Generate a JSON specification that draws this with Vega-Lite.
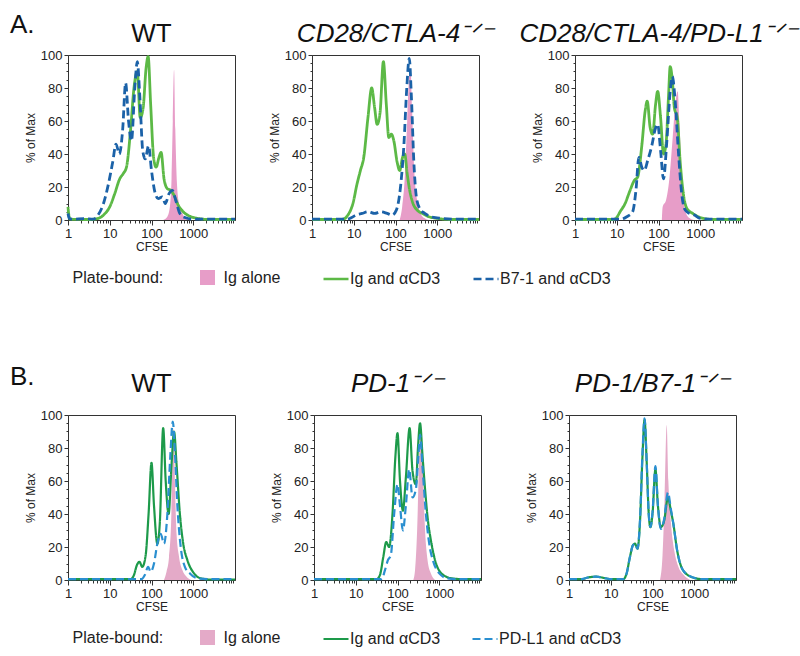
{
"$schema": "https://vega.github.io/schema/vega-lite/v6.json",
"background": "white",
"padding": {"left": 10, "top": 12, "right": 5, "bottom": 5},
"data": {"name": "d"},
"datasets": {"d": [
{"p":"A1","s":"Ig alone","x":190.5,"y":0},{"p":"A1","s":"Ig alone","x":239.9,"y":2},{"p":"A1","s":"Ig alone","x":275.4,"y":8},{"p":"A1","s":"Ig alone","x":302,"y":25},{"p":"A1","s":"Ig alone","x":323.6,"y":60},{"p":"A1","s":"Ig alone","x":346.7,"y":91},{"p":"A1","s":"Ig alone","x":371.5,"y":55},{"p":"A1","s":"Ig alone","x":407.4,"y":22},{"p":"A1","s":"Ig alone","x":457.1,"y":10},{"p":"A1","s":"Ig alone","x":549.5,"y":4},{"p":"A1","s":"Ig alone","x":691.8,"y":1},{"p":"A1","s":"Ig alone","x":871,"y":0},
{"p":"A1","s":"Ig and αCD3","x":1,"y":8},{"p":"A1","s":"Ig and αCD3","x":1.047,"y":3},{"p":"A1","s":"Ig and αCD3","x":1.12,"y":0.5},{"p":"A1","s":"Ig and αCD3","x":3.16,"y":0.3},{"p":"A1","s":"Ig and αCD3","x":5.01,"y":0.8},{"p":"A1","s":"Ig and αCD3","x":7.08,"y":3},{"p":"A1","s":"Ig and αCD3","x":10,"y":8},{"p":"A1","s":"Ig and αCD3","x":13.18,"y":16},{"p":"A1","s":"Ig and αCD3","x":17.38,"y":25},{"p":"A1","s":"Ig and αCD3","x":20.89,"y":28},{"p":"A1","s":"Ig and αCD3","x":25.12,"y":32},{"p":"A1","s":"Ig and αCD3","x":31.62,"y":55},{"p":"A1","s":"Ig and αCD3","x":38.02,"y":80},{"p":"A1","s":"Ig and αCD3","x":45.71,"y":90},{"p":"A1","s":"Ig and αCD3","x":53.7,"y":62},{"p":"A1","s":"Ig and αCD3","x":63.1,"y":68},{"p":"A1","s":"Ig and αCD3","x":74.13,"y":92},{"p":"A1","s":"Ig and αCD3","x":83.18,"y":99},{"p":"A1","s":"Ig and αCD3","x":95.5,"y":70},{"p":"A1","s":"Ig and αCD3","x":112.2,"y":38},{"p":"A1","s":"Ig and αCD3","x":128.8,"y":32},{"p":"A1","s":"Ig and αCD3","x":151.4,"y":38},{"p":"A1","s":"Ig and αCD3","x":169.8,"y":41},{"p":"A1","s":"Ig and αCD3","x":199.5,"y":25},{"p":"A1","s":"Ig and αCD3","x":239.9,"y":19},{"p":"A1","s":"Ig and αCD3","x":288.4,"y":18},{"p":"A1","s":"Ig and αCD3","x":346.7,"y":15},{"p":"A1","s":"Ig and αCD3","x":436.5,"y":9},{"p":"A1","s":"Ig and αCD3","x":575.4,"y":5},{"p":"A1","s":"Ig and αCD3","x":794.3,"y":2.5},{"p":"A1","s":"Ig and αCD3","x":1259,"y":1},{"p":"A1","s":"Ig and αCD3","x":2512,"y":0.3},{"p":"A1","s":"Ig and αCD3","x":10000,"y":0.3},
{"p":"A1","s":"B7-1 and αCD3","x":1,"y":4},{"p":"A1","s":"B7-1 and αCD3","x":1.072,"y":1},{"p":"A1","s":"B7-1 and αCD3","x":1.26,"y":0.5},{"p":"A1","s":"B7-1 and αCD3","x":2.51,"y":0.8},{"p":"A1","s":"B7-1 and αCD3","x":3.98,"y":0.5},{"p":"A1","s":"B7-1 and αCD3","x":5.25,"y":3},{"p":"A1","s":"B7-1 and αCD3","x":7.08,"y":10},{"p":"A1","s":"B7-1 and αCD3","x":9.33,"y":22},{"p":"A1","s":"B7-1 and αCD3","x":11.75,"y":35},{"p":"A1","s":"B7-1 and αCD3","x":14.13,"y":46},{"p":"A1","s":"B7-1 and αCD3","x":16.98,"y":40},{"p":"A1","s":"B7-1 and αCD3","x":20.42,"y":55},{"p":"A1","s":"B7-1 and αCD3","x":23.99,"y":83},{"p":"A1","s":"B7-1 and αCD3","x":28.18,"y":60},{"p":"A1","s":"B7-1 and αCD3","x":33.11,"y":48},{"p":"A1","s":"B7-1 and αCD3","x":39.81,"y":80},{"p":"A1","s":"B7-1 and αCD3","x":45.71,"y":96},{"p":"A1","s":"B7-1 and αCD3","x":52.48,"y":75},{"p":"A1","s":"B7-1 and αCD3","x":61.66,"y":42},{"p":"A1","s":"B7-1 and αCD3","x":70.79,"y":37},{"p":"A1","s":"B7-1 and αCD3","x":85.11,"y":45},{"p":"A1","s":"B7-1 and αCD3","x":100,"y":30},{"p":"A1","s":"B7-1 and αCD3","x":120.2,"y":17},{"p":"A1","s":"B7-1 and αCD3","x":144.5,"y":13},{"p":"A1","s":"B7-1 and αCD3","x":182,"y":14},{"p":"A1","s":"B7-1 and αCD3","x":213.8,"y":10},{"p":"A1","s":"B7-1 and αCD3","x":263,"y":16},{"p":"A1","s":"B7-1 and αCD3","x":316.2,"y":18},{"p":"A1","s":"B7-1 and αCD3","x":380.2,"y":12},{"p":"A1","s":"B7-1 and αCD3","x":478.6,"y":4},{"p":"A1","s":"B7-1 and αCD3","x":631,"y":1.5},{"p":"A1","s":"B7-1 and αCD3","x":1000,"y":0.5},{"p":"A1","s":"B7-1 and αCD3","x":10000,"y":0.5},
{"p":"A2","s":"Ig alone","x":125.9,"y":0},{"p":"A2","s":"Ig alone","x":144.5,"y":8},{"p":"A2","s":"Ig alone","x":166,"y":25},{"p":"A2","s":"Ig alone","x":190.5,"y":60},{"p":"A2","s":"Ig alone","x":213.8,"y":88},{"p":"A2","s":"Ig alone","x":229.1,"y":92},{"p":"A2","s":"Ig alone","x":251.2,"y":65},{"p":"A2","s":"Ig alone","x":281.8,"y":30},{"p":"A2","s":"Ig alone","x":331.1,"y":12},{"p":"A2","s":"Ig alone","x":398.1,"y":4},{"p":"A2","s":"Ig alone","x":501.2,"y":1},{"p":"A2","s":"Ig alone","x":631,"y":0},
{"p":"A2","s":"Ig and αCD3","x":1,"y":0.3},{"p":"A2","s":"Ig and αCD3","x":3.98,"y":0.3},{"p":"A2","s":"Ig and αCD3","x":5.5,"y":0.5},{"p":"A2","s":"Ig and αCD3","x":7.24,"y":3},{"p":"A2","s":"Ig and αCD3","x":9.55,"y":10},{"p":"A2","s":"Ig and αCD3","x":12.02,"y":22},{"p":"A2","s":"Ig and αCD3","x":14.45,"y":30},{"p":"A2","s":"Ig and αCD3","x":17.38,"y":38},{"p":"A2","s":"Ig and αCD3","x":21.88,"y":62},{"p":"A2","s":"Ig and αCD3","x":26.92,"y":80},{"p":"A2","s":"Ig and αCD3","x":31.62,"y":68},{"p":"A2","s":"Ig and αCD3","x":36.31,"y":58},{"p":"A2","s":"Ig and αCD3","x":42.66,"y":65},{"p":"A2","s":"Ig and αCD3","x":51.29,"y":96},{"p":"A2","s":"Ig and αCD3","x":60.26,"y":70},{"p":"A2","s":"Ig and αCD3","x":69.18,"y":50},{"p":"A2","s":"Ig and αCD3","x":79.43,"y":52},{"p":"A2","s":"Ig and αCD3","x":91.2,"y":48},{"p":"A2","s":"Ig and αCD3","x":109.6,"y":35},{"p":"A2","s":"Ig and αCD3","x":125.9,"y":30},{"p":"A2","s":"Ig and αCD3","x":147.9,"y":38},{"p":"A2","s":"Ig and αCD3","x":166,"y":40},{"p":"A2","s":"Ig and αCD3","x":190.5,"y":28},{"p":"A2","s":"Ig and αCD3","x":218.8,"y":18},{"p":"A2","s":"Ig and αCD3","x":263,"y":10},{"p":"A2","s":"Ig and αCD3","x":331.1,"y":6},{"p":"A2","s":"Ig and αCD3","x":436.5,"y":4},{"p":"A2","s":"Ig and αCD3","x":631,"y":2},{"p":"A2","s":"Ig and αCD3","x":1000,"y":1},{"p":"A2","s":"Ig and αCD3","x":1995,"y":0.3},{"p":"A2","s":"Ig and αCD3","x":10000,"y":0.3},
{"p":"A2","s":"B7-1 and αCD3","x":1,"y":0.5},{"p":"A2","s":"B7-1 and αCD3","x":7.08,"y":0.5},{"p":"A2","s":"B7-1 and αCD3","x":8.91,"y":1.5},{"p":"A2","s":"B7-1 and αCD3","x":11.22,"y":3},{"p":"A2","s":"B7-1 and αCD3","x":15.85,"y":4},{"p":"A2","s":"B7-1 and αCD3","x":22.39,"y":5},{"p":"A2","s":"B7-1 and αCD3","x":31.62,"y":4},{"p":"A2","s":"B7-1 and αCD3","x":44.67,"y":5},{"p":"A2","s":"B7-1 and αCD3","x":63.1,"y":4},{"p":"A2","s":"B7-1 and αCD3","x":83.18,"y":3},{"p":"A2","s":"B7-1 and αCD3","x":104.7,"y":6},{"p":"A2","s":"B7-1 and αCD3","x":131.8,"y":20},{"p":"A2","s":"B7-1 and αCD3","x":158.5,"y":45},{"p":"A2","s":"B7-1 and αCD3","x":186.2,"y":80},{"p":"A2","s":"B7-1 and αCD3","x":213.8,"y":98},{"p":"A2","s":"B7-1 and αCD3","x":239.9,"y":75},{"p":"A2","s":"B7-1 and αCD3","x":275.4,"y":35},{"p":"A2","s":"B7-1 and αCD3","x":316.2,"y":14},{"p":"A2","s":"B7-1 and αCD3","x":380.2,"y":7},{"p":"A2","s":"B7-1 and αCD3","x":501.2,"y":4},{"p":"A2","s":"B7-1 and αCD3","x":707.9,"y":2},{"p":"A2","s":"B7-1 and αCD3","x":1259,"y":1},{"p":"A2","s":"B7-1 and αCD3","x":2512,"y":0.5},{"p":"A2","s":"B7-1 and αCD3","x":10000,"y":0.5},
{"p":"A3","s":"Ig alone","x":120.2,"y":0},{"p":"A3","s":"Ig alone","x":125.9,"y":8},{"p":"A3","s":"Ig alone","x":151.4,"y":12},{"p":"A3","s":"Ig alone","x":182,"y":25},{"p":"A3","s":"Ig alone","x":218.8,"y":50},{"p":"A3","s":"Ig alone","x":257,"y":72},{"p":"A3","s":"Ig alone","x":288.4,"y":78},{"p":"A3","s":"Ig alone","x":316.2,"y":60},{"p":"A3","s":"Ig alone","x":354.8,"y":30},{"p":"A3","s":"Ig alone","x":398.1,"y":12},{"p":"A3","s":"Ig alone","x":457.1,"y":4},{"p":"A3","s":"Ig alone","x":562.3,"y":1},{"p":"A3","s":"Ig alone","x":707.9,"y":0},
{"p":"A3","s":"Ig and αCD3","x":1,"y":0.3},{"p":"A3","s":"Ig and αCD3","x":7.94,"y":0.3},{"p":"A3","s":"Ig and αCD3","x":9.55,"y":1},{"p":"A3","s":"Ig and αCD3","x":12.02,"y":5},{"p":"A3","s":"Ig and αCD3","x":15.85,"y":10},{"p":"A3","s":"Ig and αCD3","x":20.89,"y":18},{"p":"A3","s":"Ig and αCD3","x":26.3,"y":24},{"p":"A3","s":"Ig and αCD3","x":31.62,"y":26},{"p":"A3","s":"Ig and αCD3","x":39.81,"y":45},{"p":"A3","s":"Ig and αCD3","x":47.86,"y":66},{"p":"A3","s":"Ig and αCD3","x":53.7,"y":72},{"p":"A3","s":"Ig and αCD3","x":63.1,"y":56},{"p":"A3","s":"Ig and αCD3","x":72.44,"y":52},{"p":"A3","s":"Ig and αCD3","x":85.11,"y":70},{"p":"A3","s":"Ig and αCD3","x":95.5,"y":78},{"p":"A3","s":"Ig and αCD3","x":112.2,"y":62},{"p":"A3","s":"Ig and αCD3","x":131.8,"y":40},{"p":"A3","s":"Ig and αCD3","x":151.4,"y":46},{"p":"A3","s":"Ig and αCD3","x":173.8,"y":75},{"p":"A3","s":"Ig and αCD3","x":190.5,"y":93},{"p":"A3","s":"Ig and αCD3","x":213.8,"y":85},{"p":"A3","s":"Ig and αCD3","x":239.9,"y":68},{"p":"A3","s":"Ig and αCD3","x":281.8,"y":62},{"p":"A3","s":"Ig and αCD3","x":331.1,"y":35},{"p":"A3","s":"Ig and αCD3","x":398.1,"y":15},{"p":"A3","s":"Ig and αCD3","x":478.6,"y":7},{"p":"A3","s":"Ig and αCD3","x":660.7,"y":4},{"p":"A3","s":"Ig and αCD3","x":1000,"y":1.5},{"p":"A3","s":"Ig and αCD3","x":1995,"y":0.3},{"p":"A3","s":"Ig and αCD3","x":10000,"y":0.3},
{"p":"A3","s":"B7-1 and αCD3","x":1,"y":0.5},{"p":"A3","s":"B7-1 and αCD3","x":12.59,"y":0.5},{"p":"A3","s":"B7-1 and αCD3","x":17.38,"y":2},{"p":"A3","s":"B7-1 and αCD3","x":23.99,"y":5},{"p":"A3","s":"B7-1 and αCD3","x":28.84,"y":18},{"p":"A3","s":"B7-1 and αCD3","x":33.88,"y":38},{"p":"A3","s":"B7-1 and αCD3","x":39.81,"y":32},{"p":"A3","s":"B7-1 and αCD3","x":45.71,"y":30},{"p":"A3","s":"B7-1 and αCD3","x":54.95,"y":36},{"p":"A3","s":"B7-1 and αCD3","x":69.18,"y":45},{"p":"A3","s":"B7-1 and αCD3","x":83.18,"y":55},{"p":"A3","s":"B7-1 and αCD3","x":95.5,"y":58},{"p":"A3","s":"B7-1 and αCD3","x":112.2,"y":42},{"p":"A3","s":"B7-1 and αCD3","x":131.8,"y":25},{"p":"A3","s":"B7-1 and αCD3","x":158.5,"y":48},{"p":"A3","s":"B7-1 and αCD3","x":190.5,"y":78},{"p":"A3","s":"B7-1 and αCD3","x":213.8,"y":87},{"p":"A3","s":"B7-1 and αCD3","x":251.2,"y":72},{"p":"A3","s":"B7-1 and αCD3","x":302,"y":40},{"p":"A3","s":"B7-1 and αCD3","x":363.1,"y":15},{"p":"A3","s":"B7-1 and αCD3","x":436.5,"y":6},{"p":"A3","s":"B7-1 and αCD3","x":549.5,"y":4},{"p":"A3","s":"B7-1 and αCD3","x":724.4,"y":3},{"p":"A3","s":"B7-1 and αCD3","x":1000,"y":1},{"p":"A3","s":"B7-1 and αCD3","x":1995,"y":0.5},{"p":"A3","s":"B7-1 and αCD3","x":10000,"y":0.5},
{"p":"B1","s":"Ig alone","x":199.5,"y":0},{"p":"B1","s":"Ig alone","x":229.1,"y":5},{"p":"B1","s":"Ig alone","x":263,"y":14},{"p":"B1","s":"Ig alone","x":295.1,"y":35},{"p":"B1","s":"Ig alone","x":323.6,"y":80},{"p":"B1","s":"Ig alone","x":338.8,"y":92},{"p":"B1","s":"Ig alone","x":363.1,"y":60},{"p":"B1","s":"Ig alone","x":398.1,"y":28},{"p":"B1","s":"Ig alone","x":457.1,"y":14},{"p":"B1","s":"Ig alone","x":549.5,"y":6},{"p":"B1","s":"Ig alone","x":691.8,"y":2},{"p":"B1","s":"Ig alone","x":891.3,"y":0},
{"p":"B1","s":"Ig and αCD3","x":1,"y":0.5},{"p":"B1","s":"Ig and αCD3","x":31.62,"y":0.5},{"p":"B1","s":"Ig and αCD3","x":38.02,"y":3},{"p":"B1","s":"Ig and αCD3","x":44.67,"y":9},{"p":"B1","s":"Ig and αCD3","x":51.29,"y":11},{"p":"B1","s":"Ig and αCD3","x":60.26,"y":8},{"p":"B1","s":"Ig and αCD3","x":72.44,"y":15},{"p":"B1","s":"Ig and αCD3","x":85.11,"y":40},{"p":"B1","s":"Ig and αCD3","x":100,"y":71},{"p":"B1","s":"Ig and αCD3","x":114.8,"y":45},{"p":"B1","s":"Ig and αCD3","x":138,"y":22},{"p":"B1","s":"Ig and αCD3","x":158.5,"y":35},{"p":"B1","s":"Ig and αCD3","x":190.5,"y":92},{"p":"B1","s":"Ig and αCD3","x":218.8,"y":60},{"p":"B1","s":"Ig and αCD3","x":257,"y":40},{"p":"B1","s":"Ig and αCD3","x":302,"y":70},{"p":"B1","s":"Ig and αCD3","x":346.7,"y":90},{"p":"B1","s":"Ig and αCD3","x":398.1,"y":70},{"p":"B1","s":"Ig and αCD3","x":478.6,"y":40},{"p":"B1","s":"Ig and αCD3","x":575.4,"y":22},{"p":"B1","s":"Ig and αCD3","x":724.4,"y":12},{"p":"B1","s":"Ig and αCD3","x":1047,"y":4},{"p":"B1","s":"Ig and αCD3","x":1514,"y":1},{"p":"B1","s":"Ig and αCD3","x":2512,"y":0.3},{"p":"B1","s":"Ig and αCD3","x":10000,"y":0.3},
{"p":"B1","s":"PD-L1 and αCD3","x":1,"y":0.5},{"p":"B1","s":"PD-L1 and αCD3","x":57.54,"y":0.5},{"p":"B1","s":"PD-L1 and αCD3","x":69.18,"y":3},{"p":"B1","s":"PD-L1 and αCD3","x":83.18,"y":8},{"p":"B1","s":"PD-L1 and αCD3","x":95.5,"y":5},{"p":"B1","s":"PD-L1 and αCD3","x":114.8,"y":10},{"p":"B1","s":"PD-L1 and αCD3","x":138,"y":22},{"p":"B1","s":"PD-L1 and αCD3","x":166,"y":28},{"p":"B1","s":"PD-L1 and αCD3","x":199.5,"y":22},{"p":"B1","s":"PD-L1 and αCD3","x":239.9,"y":40},{"p":"B1","s":"PD-L1 and αCD3","x":281.8,"y":75},{"p":"B1","s":"PD-L1 and αCD3","x":323.6,"y":96},{"p":"B1","s":"PD-L1 and αCD3","x":363.1,"y":78},{"p":"B1","s":"PD-L1 and αCD3","x":416.9,"y":45},{"p":"B1","s":"PD-L1 and αCD3","x":501.2,"y":20},{"p":"B1","s":"PD-L1 and αCD3","x":631,"y":8},{"p":"B1","s":"PD-L1 and αCD3","x":831.8,"y":4},{"p":"B1","s":"PD-L1 and αCD3","x":1259,"y":1},{"p":"B1","s":"PD-L1 and αCD3","x":2512,"y":0.5},{"p":"B1","s":"PD-L1 and αCD3","x":10000,"y":0.5},
{"p":"B2","s":"Ig alone","x":239.9,"y":0},{"p":"B2","s":"Ig alone","x":263,"y":6},{"p":"B2","s":"Ig alone","x":295.1,"y":30},{"p":"B2","s":"Ig alone","x":331.1,"y":75},{"p":"B2","s":"Ig alone","x":363.1,"y":93},{"p":"B2","s":"Ig alone","x":398.1,"y":70},{"p":"B2","s":"Ig alone","x":457.1,"y":30},{"p":"B2","s":"Ig alone","x":524.8,"y":12},{"p":"B2","s":"Ig alone","x":631,"y":4},{"p":"B2","s":"Ig alone","x":794.3,"y":0},
{"p":"B2","s":"Ig and αCD3","x":1,"y":0.5},{"p":"B2","s":"Ig and αCD3","x":31.62,"y":0.5},{"p":"B2","s":"Ig and αCD3","x":38.02,"y":3},{"p":"B2","s":"Ig and αCD3","x":45.71,"y":14},{"p":"B2","s":"Ig and αCD3","x":53.7,"y":23},{"p":"B2","s":"Ig and αCD3","x":63.1,"y":20},{"p":"B2","s":"Ig and αCD3","x":75.86,"y":40},{"p":"B2","s":"Ig and αCD3","x":89.13,"y":75},{"p":"B2","s":"Ig and αCD3","x":100,"y":89},{"p":"B2","s":"Ig and αCD3","x":114.8,"y":60},{"p":"B2","s":"Ig and αCD3","x":134.9,"y":42},{"p":"B2","s":"Ig and αCD3","x":158.5,"y":62},{"p":"B2","s":"Ig and αCD3","x":195,"y":92},{"p":"B2","s":"Ig and αCD3","x":229.1,"y":66},{"p":"B2","s":"Ig and αCD3","x":275.4,"y":58},{"p":"B2","s":"Ig and αCD3","x":309,"y":80},{"p":"B2","s":"Ig and αCD3","x":346.7,"y":95},{"p":"B2","s":"Ig and αCD3","x":398.1,"y":75},{"p":"B2","s":"Ig and αCD3","x":457.1,"y":55},{"p":"B2","s":"Ig and αCD3","x":524.8,"y":38},{"p":"B2","s":"Ig and αCD3","x":631,"y":24},{"p":"B2","s":"Ig and αCD3","x":794.3,"y":12},{"p":"B2","s":"Ig and αCD3","x":1122,"y":4},{"p":"B2","s":"Ig and αCD3","x":1995,"y":1},{"p":"B2","s":"Ig and αCD3","x":3981,"y":0.5},{"p":"B2","s":"Ig and αCD3","x":10000,"y":0.5},
{"p":"B2","s":"PD-L1 and αCD3","x":1,"y":0.5},{"p":"B2","s":"PD-L1 and αCD3","x":41.69,"y":0.5},{"p":"B2","s":"PD-L1 and αCD3","x":50.12,"y":6},{"p":"B2","s":"PD-L1 and αCD3","x":58.88,"y":12},{"p":"B2","s":"PD-L1 and αCD3","x":69.18,"y":15},{"p":"B2","s":"PD-L1 and αCD3","x":83.18,"y":40},{"p":"B2","s":"PD-L1 and αCD3","x":100,"y":58},{"p":"B2","s":"PD-L1 and αCD3","x":114.8,"y":45},{"p":"B2","s":"PD-L1 and αCD3","x":134.9,"y":30},{"p":"B2","s":"PD-L1 and αCD3","x":158.5,"y":45},{"p":"B2","s":"PD-L1 and αCD3","x":190.5,"y":67},{"p":"B2","s":"PD-L1 and αCD3","x":229.1,"y":50},{"p":"B2","s":"PD-L1 and αCD3","x":275.4,"y":55},{"p":"B2","s":"PD-L1 and αCD3","x":316.2,"y":75},{"p":"B2","s":"PD-L1 and αCD3","x":346.7,"y":88},{"p":"B2","s":"PD-L1 and αCD3","x":398.1,"y":68},{"p":"B2","s":"PD-L1 and αCD3","x":478.6,"y":40},{"p":"B2","s":"PD-L1 and αCD3","x":575.4,"y":22},{"p":"B2","s":"PD-L1 and αCD3","x":724.4,"y":11},{"p":"B2","s":"PD-L1 and αCD3","x":1000,"y":4},{"p":"B2","s":"PD-L1 and αCD3","x":1585,"y":1},{"p":"B2","s":"PD-L1 and αCD3","x":3162,"y":0.5},{"p":"B2","s":"PD-L1 and αCD3","x":10000,"y":0.5},
{"p":"B3","s":"Ig alone","x":151.4,"y":0},{"p":"B3","s":"Ig alone","x":173.8,"y":15},{"p":"B3","s":"Ig alone","x":195,"y":50},{"p":"B3","s":"Ig alone","x":218.8,"y":94},{"p":"B3","s":"Ig alone","x":239.9,"y":60},{"p":"B3","s":"Ig alone","x":275.4,"y":35},{"p":"B3","s":"Ig alone","x":331.1,"y":18},{"p":"B3","s":"Ig alone","x":416.9,"y":8},{"p":"B3","s":"Ig alone","x":562.3,"y":3},{"p":"B3","s":"Ig alone","x":794.3,"y":0},
{"p":"B3","s":"Ig and αCD3","x":1,"y":0.5},{"p":"B3","s":"Ig and αCD3","x":2,"y":0.5},{"p":"B3","s":"Ig and αCD3","x":2.82,"y":1.5},{"p":"B3","s":"Ig and αCD3","x":4.47,"y":2},{"p":"B3","s":"Ig and αCD3","x":7.08,"y":1.2},{"p":"B3","s":"Ig and αCD3","x":10,"y":0.5},{"p":"B3","s":"Ig and αCD3","x":19.95,"y":0.5},{"p":"B3","s":"Ig and αCD3","x":23.99,"y":4},{"p":"B3","s":"Ig and αCD3","x":28.84,"y":14},{"p":"B3","s":"Ig and αCD3","x":33.88,"y":21},{"p":"B3","s":"Ig and αCD3","x":38.02,"y":22},{"p":"B3","s":"Ig and αCD3","x":43.65,"y":19},{"p":"B3","s":"Ig and αCD3","x":50.12,"y":35},{"p":"B3","s":"Ig and αCD3","x":57.54,"y":75},{"p":"B3","s":"Ig and αCD3","x":64.57,"y":97},{"p":"B3","s":"Ig and αCD3","x":72.44,"y":72},{"p":"B3","s":"Ig and αCD3","x":81.28,"y":40},{"p":"B3","s":"Ig and αCD3","x":89.13,"y":32},{"p":"B3","s":"Ig and αCD3","x":100,"y":40},{"p":"B3","s":"Ig and αCD3","x":117.5,"y":67},{"p":"B3","s":"Ig and αCD3","x":134.9,"y":45},{"p":"B3","s":"Ig and αCD3","x":158.5,"y":32},{"p":"B3","s":"Ig and αCD3","x":190.5,"y":36},{"p":"B3","s":"Ig and αCD3","x":234.4,"y":50},{"p":"B3","s":"Ig and αCD3","x":275.4,"y":42},{"p":"B3","s":"Ig and αCD3","x":316.2,"y":34},{"p":"B3","s":"Ig and αCD3","x":389,"y":18},{"p":"B3","s":"Ig and αCD3","x":537,"y":6},{"p":"B3","s":"Ig and αCD3","x":933.3,"y":1.5},{"p":"B3","s":"Ig and αCD3","x":1585,"y":0.5},{"p":"B3","s":"Ig and αCD3","x":10000,"y":0.5},
{"p":"B3","s":"PD-L1 and αCD3","x":1,"y":0.5},{"p":"B3","s":"PD-L1 and αCD3","x":2,"y":0.5},{"p":"B3","s":"PD-L1 and αCD3","x":2.82,"y":1.5},{"p":"B3","s":"PD-L1 and αCD3","x":4.47,"y":2},{"p":"B3","s":"PD-L1 and αCD3","x":7.08,"y":1.2},{"p":"B3","s":"PD-L1 and αCD3","x":10,"y":0.5},{"p":"B3","s":"PD-L1 and αCD3","x":19.95,"y":0.5},{"p":"B3","s":"PD-L1 and αCD3","x":23.99,"y":4},{"p":"B3","s":"PD-L1 and αCD3","x":28.84,"y":14},{"p":"B3","s":"PD-L1 and αCD3","x":33.88,"y":21},{"p":"B3","s":"PD-L1 and αCD3","x":38.02,"y":22},{"p":"B3","s":"PD-L1 and αCD3","x":43.65,"y":19},{"p":"B3","s":"PD-L1 and αCD3","x":50.12,"y":36},{"p":"B3","s":"PD-L1 and αCD3","x":57.54,"y":77},{"p":"B3","s":"PD-L1 and αCD3","x":64.57,"y":98},{"p":"B3","s":"PD-L1 and αCD3","x":72.44,"y":72},{"p":"B3","s":"PD-L1 and αCD3","x":81.28,"y":40},{"p":"B3","s":"PD-L1 and αCD3","x":89.13,"y":32},{"p":"B3","s":"PD-L1 and αCD3","x":100,"y":41},{"p":"B3","s":"PD-L1 and αCD3","x":117.5,"y":69},{"p":"B3","s":"PD-L1 and αCD3","x":134.9,"y":45},{"p":"B3","s":"PD-L1 and αCD3","x":158.5,"y":31},{"p":"B3","s":"PD-L1 and αCD3","x":190.5,"y":37},{"p":"B3","s":"PD-L1 and αCD3","x":234.4,"y":53},{"p":"B3","s":"PD-L1 and αCD3","x":275.4,"y":43},{"p":"B3","s":"PD-L1 and αCD3","x":316.2,"y":34},{"p":"B3","s":"PD-L1 and αCD3","x":389,"y":18},{"p":"B3","s":"PD-L1 and αCD3","x":537,"y":6},{"p":"B3","s":"PD-L1 and αCD3","x":933.3,"y":1.5},{"p":"B3","s":"PD-L1 and αCD3","x":1585,"y":0.5},{"p":"B3","s":"PD-L1 and αCD3","x":10000,"y":0.5}
]},
"config": {
 "font": "Liberation Sans",
 "view": {"stroke": "#333", "strokeWidth": 1},
 "axis": {"grid": false, "labelFontSize": 13, "labelColor": "#222", "labelFont": "Liberation Sans", "titleFont": "Liberation Sans", "titleFontSize": 12, "titleFontWeight": "normal", "titleColor": "#222", "domainColor": "#333", "tickColor": "#333", "labelFlush": false, "labelPadding": 2, "labelOverlap": false},
 "axisX": {"titlePadding": 1},
 "axisY": {"titlePadding": 3},
 "title": {"fontSize": 26, "fontWeight": "normal", "color": "#111", "baseline": "alphabetic", "font": "Liberation Sans"},
 "legend": {"orient": "bottom", "direction": "horizontal", "titleOrient": "left", "titleFontSize": 16, "titleFontWeight": "normal", "titleColor": "#222", "titleFont": "Liberation Sans", "labelFont": "Liberation Sans", "labelFontSize": 16, "labelColor": "#222", "titlePadding": 36, "offset": 12,
   "layout": {"bottom": {"anchor": "start", "direction": "horizontal", "margin": 37}}}
},
"spacing": 360,
"bounds": "flush",
"resolve": {"scale": {"color": "independent", "stroke": "independent", "strokeDash": "independent"}, "legend": {"color": "independent", "stroke": "independent", "strokeDash": "independent"}},
"vconcat": [
{
 "title": {"text": "A.", "anchor": "start", "frame": "group", "dx": -58, "offset": -18, "fontSize": 26},
 "spacing": 77,
 "bounds": "flush",
 "hconcat": [
 {
  "title": {"text": "WT", "offset": 2.5},
  "width": 167, "height": 165,
  "layer": [
   {"transform": [{"filter": "datum.p === 'A1' && datum.s === 'Ig alone'"}],
    "mark": {"type": "area", "interpolate": "monotone", "opacity": 1},
    "encoding": {
     "x": {"field": "x", "type": "quantitative", "scale": {"type": "log", "domain": [1, 10000]}, "axis": {"orient": "bottom", "values": [1, 10, 100, 1000], "format": "d", "title": "CFSE", "tickSize": 5}},
     "y": {"field": "y", "type": "quantitative", "scale": {"domain": [0, 100], "nice": false}, "axis": {"orient": "left", "values": [0, 20, 40, 60, 80, 100], "title": "% of Max", "tickSize": 4}},
     "color": {"field": "s", "type": "nominal", "scale": {"domain": ["Ig alone"], "range": ["#e79dc8"]},
      "legend": {"title": "Plate-bound:", "symbolType": "square", "symbolSize": 225, "symbolStrokeWidth": 0, "labelOffset": 8, "padding": 4.5}}
    }},
   {"transform": [{"filter": "datum.p === 'A1' && datum.s === 'Ig and αCD3'"}],
    "mark": {"type": "line", "interpolate": "monotone", "strokeWidth": 2.8},
    "encoding": {
     "x": {"field": "x", "type": "quantitative", "scale": {"type": "log", "domain": [1, 10000]}, "axis": {"orient": "bottom", "values": [2,3,4,5,6,7,8,9,20,30,40,50,60,70,80,90,200,300,400,500,600,700,800,900,2000,3000,4000,5000,6000,7000,8000,9000], "labels": false, "domain": false, "title": null, "tickSize": 3}},
     "y": {"field": "y", "type": "quantitative", "scale": {"domain": [0, 100], "nice": false}, "axis": {"orient": "left", "values": [5,10,15,25,30,35,45,50,55,65,70,75,85,90,95], "labels": false, "domain": false, "title": null, "tickSize": 2}},
     "stroke": {"field": "s", "type": "nominal", "scale": {"domain": ["Ig and αCD3", "B7-1 and αCD3"], "range": ["#5cb946", "#1b62a8"]},
      "legend": {"title": null, "symbolType": "stroke", "symbolSize": 625, "symbolStrokeWidth": 2.6, "labelOffset": 0, "columnPadding": 27}},
     "strokeDash": {"field": "s", "type": "nominal", "scale": {"domain": ["Ig and αCD3", "B7-1 and αCD3"], "range": [[1, 0], [8, 4]]},
      "legend": {"title": null, "symbolType": "stroke", "symbolSize": 625, "symbolStrokeWidth": 2.6, "labelOffset": 0, "columnPadding": 27}}
    }},
   {"transform": [{"filter": "datum.p === 'A1' && datum.s === 'B7-1 and αCD3'"}],
    "mark": {"type": "line", "interpolate": "monotone", "strokeWidth": 2.8},
    "encoding": {
     "x": {"field": "x", "type": "quantitative", "scale": {"type": "log", "domain": [1, 10000]}, "axis": null},
     "y": {"field": "y", "type": "quantitative", "scale": {"domain": [0, 100], "nice": false}, "axis": null},
     "stroke": {"field": "s", "type": "nominal", "scale": {"domain": ["Ig and αCD3", "B7-1 and αCD3"], "range": ["#5cb946", "#1b62a8"]}, "legend": null},
     "strokeDash": {"field": "s", "type": "nominal", "scale": {"domain": ["Ig and αCD3", "B7-1 and αCD3"], "range": [[1, 0], [8, 4]]}, "legend": null}
    }}
  ],
  "resolve": {"axis": {"x": "independent", "y": "independent"}}
 },
 {
  "spacing": 96,
  "bounds": "flush",
  "hconcat": [
  {
   "title": {"text": "CD28/CTLA-4⁻ᐟ⁻", "fontStyle": "italic", "offset": 2.5},
   "width": 167, "height": 165,
   "layer": [
    {"transform": [{"filter": "datum.p === 'A2' && datum.s === 'Ig alone'"}],
     "mark": {"type": "area", "interpolate": "monotone", "opacity": 1},
     "encoding": {
      "x": {"field": "x", "type": "quantitative", "scale": {"type": "log", "domain": [1, 10000]}, "axis": {"orient": "bottom", "values": [1, 10, 100, 1000], "format": "d", "title": "CFSE", "tickSize": 5}},
      "y": {"field": "y", "type": "quantitative", "scale": {"domain": [0, 100], "nice": false}, "axis": {"orient": "left", "values": [0, 20, 40, 60, 80, 100], "title": "% of Max", "tickSize": 4}},
      "color": {"field": "s", "type": "nominal", "scale": {"domain": ["Ig alone"], "range": ["#e79dc8"]}, "legend": null}
     }},
    {"transform": [{"filter": "datum.p === 'A2' && datum.s === 'Ig and αCD3'"}],
     "mark": {"type": "line", "interpolate": "monotone", "strokeWidth": 2.8},
     "encoding": {
      "x": {"field": "x", "type": "quantitative", "scale": {"type": "log", "domain": [1, 10000]}, "axis": {"orient": "bottom", "values": [2,3,4,5,6,7,8,9,20,30,40,50,60,70,80,90,200,300,400,500,600,700,800,900,2000,3000,4000,5000,6000,7000,8000,9000], "labels": false, "domain": false, "title": null, "tickSize": 3}},
      "y": {"field": "y", "type": "quantitative", "scale": {"domain": [0, 100], "nice": false}, "axis": {"orient": "left", "values": [5,10,15,25,30,35,45,50,55,65,70,75,85,90,95], "labels": false, "domain": false, "title": null, "tickSize": 2}},
      "stroke": {"field": "s", "type": "nominal", "scale": {"domain": ["Ig and αCD3", "B7-1 and αCD3"], "range": ["#5cb946", "#1b62a8"]}, "legend": null},
      "strokeDash": {"field": "s", "type": "nominal", "scale": {"domain": ["Ig and αCD3", "B7-1 and αCD3"], "range": [[1, 0], [8, 4]]}, "legend": null}
     }},
    {"transform": [{"filter": "datum.p === 'A2' && datum.s === 'B7-1 and αCD3'"}],
     "mark": {"type": "line", "interpolate": "monotone", "strokeWidth": 2.8},
     "encoding": {
      "x": {"field": "x", "type": "quantitative", "scale": {"type": "log", "domain": [1, 10000]}, "axis": null},
      "y": {"field": "y", "type": "quantitative", "scale": {"domain": [0, 100], "nice": false}, "axis": null},
      "stroke": {"field": "s", "type": "nominal", "scale": {"domain": ["Ig and αCD3", "B7-1 and αCD3"], "range": ["#5cb946", "#1b62a8"]}, "legend": null},
      "strokeDash": {"field": "s", "type": "nominal", "scale": {"domain": ["Ig and αCD3", "B7-1 and αCD3"], "range": [[1, 0], [8, 4]]}, "legend": null}
     }}
   ],
   "resolve": {"axis": {"x": "independent", "y": "independent"}}
  },
  {
   "title": {"text": "CD28/CTLA-4/PD-L1⁻ᐟ⁻", "fontStyle": "italic", "offset": 2.5},
   "width": 167, "height": 165,
   "layer": [
    {"transform": [{"filter": "datum.p === 'A3' && datum.s === 'Ig alone'"}],
     "mark": {"type": "area", "interpolate": "monotone", "opacity": 1},
     "encoding": {
      "x": {"field": "x", "type": "quantitative", "scale": {"type": "log", "domain": [1, 10000]}, "axis": {"orient": "bottom", "values": [1, 10, 100, 1000], "format": "d", "title": "CFSE", "tickSize": 5}},
      "y": {"field": "y", "type": "quantitative", "scale": {"domain": [0, 100], "nice": false}, "axis": {"orient": "left", "values": [0, 20, 40, 60, 80, 100], "title": "% of Max", "tickSize": 4}},
      "color": {"field": "s", "type": "nominal", "scale": {"domain": ["Ig alone"], "range": ["#e79dc8"]}, "legend": null}
     }},
    {"transform": [{"filter": "datum.p === 'A3' && datum.s === 'Ig and αCD3'"}],
     "mark": {"type": "line", "interpolate": "monotone", "strokeWidth": 2.8},
     "encoding": {
      "x": {"field": "x", "type": "quantitative", "scale": {"type": "log", "domain": [1, 10000]}, "axis": {"orient": "bottom", "values": [2,3,4,5,6,7,8,9,20,30,40,50,60,70,80,90,200,300,400,500,600,700,800,900,2000,3000,4000,5000,6000,7000,8000,9000], "labels": false, "domain": false, "title": null, "tickSize": 3}},
      "y": {"field": "y", "type": "quantitative", "scale": {"domain": [0, 100], "nice": false}, "axis": {"orient": "left", "values": [5,10,15,25,30,35,45,50,55,65,70,75,85,90,95], "labels": false, "domain": false, "title": null, "tickSize": 2}},
      "stroke": {"field": "s", "type": "nominal", "scale": {"domain": ["Ig and αCD3", "B7-1 and αCD3"], "range": ["#5cb946", "#1b62a8"]}, "legend": null},
      "strokeDash": {"field": "s", "type": "nominal", "scale": {"domain": ["Ig and αCD3", "B7-1 and αCD3"], "range": [[1, 0], [8, 4]]}, "legend": null}
     }},
    {"transform": [{"filter": "datum.p === 'A3' && datum.s === 'B7-1 and αCD3'"}],
     "mark": {"type": "line", "interpolate": "monotone", "strokeWidth": 2.8},
     "encoding": {
      "x": {"field": "x", "type": "quantitative", "scale": {"type": "log", "domain": [1, 10000]}, "axis": null},
      "y": {"field": "y", "type": "quantitative", "scale": {"domain": [0, 100], "nice": false}, "axis": null},
      "stroke": {"field": "s", "type": "nominal", "scale": {"domain": ["Ig and αCD3", "B7-1 and αCD3"], "range": ["#5cb946", "#1b62a8"]}, "legend": null},
      "strokeDash": {"field": "s", "type": "nominal", "scale": {"domain": ["Ig and αCD3", "B7-1 and αCD3"], "range": [[1, 0], [8, 4]]}, "legend": null}
     }}
   ],
   "resolve": {"axis": {"x": "independent", "y": "independent"}}
  }
  ]
 }
 ]
},
{
 "title": {"text": "B.", "anchor": "start", "frame": "group", "dx": -58, "offset": -20, "fontSize": 26},
 "spacing": 79,
 "bounds": "flush",
 "hconcat": [
 {
  "title": {"text": "WT", "offset": 12.5},
  "width": 167, "height": 165,
  "layer": [
   {"transform": [{"filter": "datum.p === 'B1' && datum.s === 'Ig alone'"}],
    "mark": {"type": "area", "interpolate": "monotone", "opacity": 1},
    "encoding": {
     "x": {"field": "x", "type": "quantitative", "scale": {"type": "log", "domain": [1, 10000]}, "axis": {"orient": "bottom", "values": [1, 10, 100, 1000], "format": "d", "title": "CFSE", "tickSize": 5}},
     "y": {"field": "y", "type": "quantitative", "scale": {"domain": [0, 100], "nice": false}, "axis": {"orient": "left", "values": [0, 20, 40, 60, 80, 100], "title": "% of Max", "tickSize": 4}},
     "color": {"field": "s", "type": "nominal", "scale": {"domain": ["Ig alone"], "range": ["#e4aac8"]},
      "legend": {"title": "Plate-bound:", "symbolType": "square", "symbolSize": 225, "symbolStrokeWidth": 0, "labelOffset": 8, "padding": 4.5}}
    }},
   {"transform": [{"filter": "datum.p === 'B1' && datum.s === 'Ig and αCD3'"}],
    "mark": {"type": "line", "interpolate": "monotone", "strokeWidth": 2.2},
    "encoding": {
     "x": {"field": "x", "type": "quantitative", "scale": {"type": "log", "domain": [1, 10000]}, "axis": {"orient": "bottom", "values": [2,3,4,5,6,7,8,9,20,30,40,50,60,70,80,90,200,300,400,500,600,700,800,900,2000,3000,4000,5000,6000,7000,8000,9000], "labels": false, "domain": false, "title": null, "tickSize": 3}},
     "y": {"field": "y", "type": "quantitative", "scale": {"domain": [0, 100], "nice": false}, "axis": {"orient": "left", "values": [5,10,15,25,30,35,45,50,55,65,70,75,85,90,95], "labels": false, "domain": false, "title": null, "tickSize": 2}},
     "stroke": {"field": "s", "type": "nominal", "scale": {"domain": ["Ig and αCD3", "PD-L1 and αCD3"], "range": ["#1d9a4a", "#2a8fd0"]},
      "legend": {"title": null, "symbolType": "stroke", "symbolSize": 625, "symbolStrokeWidth": 2.2, "labelOffset": 0, "columnPadding": 27}},
     "strokeDash": {"field": "s", "type": "nominal", "scale": {"domain": ["Ig and αCD3", "PD-L1 and αCD3"], "range": [[1, 0], [8, 4]]},
      "legend": {"title": null, "symbolType": "stroke", "symbolSize": 625, "symbolStrokeWidth": 2.2, "labelOffset": 0, "columnPadding": 27}}
    }},
   {"transform": [{"filter": "datum.p === 'B1' && datum.s === 'PD-L1 and αCD3'"}],
    "mark": {"type": "line", "interpolate": "monotone", "strokeWidth": 2.2},
    "encoding": {
     "x": {"field": "x", "type": "quantitative", "scale": {"type": "log", "domain": [1, 10000]}, "axis": null},
     "y": {"field": "y", "type": "quantitative", "scale": {"domain": [0, 100], "nice": false}, "axis": null},
     "stroke": {"field": "s", "type": "nominal", "scale": {"domain": ["Ig and αCD3", "PD-L1 and αCD3"], "range": ["#1d9a4a", "#2a8fd0"]}, "legend": null},
     "strokeDash": {"field": "s", "type": "nominal", "scale": {"domain": ["Ig and αCD3", "PD-L1 and αCD3"], "range": [[1, 0], [8, 4]]}, "legend": null}
    }}
  ],
  "resolve": {"axis": {"x": "independent", "y": "independent"}}
 },
 {
  "spacing": 88,
  "bounds": "flush",
  "hconcat": [
  {
   "title": {"text": "PD-1⁻ᐟ⁻", "fontStyle": "italic", "offset": 12.5},
   "width": 167, "height": 165,
   "layer": [
    {"transform": [{"filter": "datum.p === 'B2' && datum.s === 'Ig alone'"}],
     "mark": {"type": "area", "interpolate": "monotone", "opacity": 1},
     "encoding": {
      "x": {"field": "x", "type": "quantitative", "scale": {"type": "log", "domain": [1, 10000]}, "axis": {"orient": "bottom", "values": [1, 10, 100, 1000], "format": "d", "title": "CFSE", "tickSize": 5}},
      "y": {"field": "y", "type": "quantitative", "scale": {"domain": [0, 100], "nice": false}, "axis": {"orient": "left", "values": [0, 20, 40, 60, 80, 100], "title": "% of Max", "tickSize": 4}},
      "color": {"field": "s", "type": "nominal", "scale": {"domain": ["Ig alone"], "range": ["#e4aac8"]}, "legend": null}
     }},
    {"transform": [{"filter": "datum.p === 'B2' && datum.s === 'Ig and αCD3'"}],
     "mark": {"type": "line", "interpolate": "monotone", "strokeWidth": 2.2},
     "encoding": {
      "x": {"field": "x", "type": "quantitative", "scale": {"type": "log", "domain": [1, 10000]}, "axis": {"orient": "bottom", "values": [2,3,4,5,6,7,8,9,20,30,40,50,60,70,80,90,200,300,400,500,600,700,800,900,2000,3000,4000,5000,6000,7000,8000,9000], "labels": false, "domain": false, "title": null, "tickSize": 3}},
      "y": {"field": "y", "type": "quantitative", "scale": {"domain": [0, 100], "nice": false}, "axis": {"orient": "left", "values": [5,10,15,25,30,35,45,50,55,65,70,75,85,90,95], "labels": false, "domain": false, "title": null, "tickSize": 2}},
      "stroke": {"field": "s", "type": "nominal", "scale": {"domain": ["Ig and αCD3", "PD-L1 and αCD3"], "range": ["#1d9a4a", "#2a8fd0"]}, "legend": null},
      "strokeDash": {"field": "s", "type": "nominal", "scale": {"domain": ["Ig and αCD3", "PD-L1 and αCD3"], "range": [[1, 0], [8, 4]]}, "legend": null}
     }},
    {"transform": [{"filter": "datum.p === 'B2' && datum.s === 'PD-L1 and αCD3'"}],
     "mark": {"type": "line", "interpolate": "monotone", "strokeWidth": 2.2},
     "encoding": {
      "x": {"field": "x", "type": "quantitative", "scale": {"type": "log", "domain": [1, 10000]}, "axis": null},
      "y": {"field": "y", "type": "quantitative", "scale": {"domain": [0, 100], "nice": false}, "axis": null},
      "stroke": {"field": "s", "type": "nominal", "scale": {"domain": ["Ig and αCD3", "PD-L1 and αCD3"], "range": ["#1d9a4a", "#2a8fd0"]}, "legend": null},
      "strokeDash": {"field": "s", "type": "nominal", "scale": {"domain": ["Ig and αCD3", "PD-L1 and αCD3"], "range": [[1, 0], [8, 4]]}, "legend": null}
     }}
   ],
   "resolve": {"axis": {"x": "independent", "y": "independent"}}
  },
  {
   "title": {"text": "PD-1/B7-1⁻ᐟ⁻", "fontStyle": "italic", "offset": 12.5},
   "width": 167, "height": 165,
   "layer": [
    {"transform": [{"filter": "datum.p === 'B3' && datum.s === 'Ig alone'"}],
     "mark": {"type": "area", "interpolate": "monotone", "opacity": 1},
     "encoding": {
      "x": {"field": "x", "type": "quantitative", "scale": {"type": "log", "domain": [1, 10000]}, "axis": {"orient": "bottom", "values": [1, 10, 100, 1000], "format": "d", "title": "CFSE", "tickSize": 5}},
      "y": {"field": "y", "type": "quantitative", "scale": {"domain": [0, 100], "nice": false}, "axis": {"orient": "left", "values": [0, 20, 40, 60, 80, 100], "title": "% of Max", "tickSize": 4}},
      "color": {"field": "s", "type": "nominal", "scale": {"domain": ["Ig alone"], "range": ["#e4aac8"]}, "legend": null}
     }},
    {"transform": [{"filter": "datum.p === 'B3' && datum.s === 'Ig and αCD3'"}],
     "mark": {"type": "line", "interpolate": "monotone", "strokeWidth": 2.2},
     "encoding": {
      "x": {"field": "x", "type": "quantitative", "scale": {"type": "log", "domain": [1, 10000]}, "axis": {"orient": "bottom", "values": [2,3,4,5,6,7,8,9,20,30,40,50,60,70,80,90,200,300,400,500,600,700,800,900,2000,3000,4000,5000,6000,7000,8000,9000], "labels": false, "domain": false, "title": null, "tickSize": 3}},
      "y": {"field": "y", "type": "quantitative", "scale": {"domain": [0, 100], "nice": false}, "axis": {"orient": "left", "values": [5,10,15,25,30,35,45,50,55,65,70,75,85,90,95], "labels": false, "domain": false, "title": null, "tickSize": 2}},
      "stroke": {"field": "s", "type": "nominal", "scale": {"domain": ["Ig and αCD3", "PD-L1 and αCD3"], "range": ["#1d9a4a", "#2a8fd0"]}, "legend": null},
      "strokeDash": {"field": "s", "type": "nominal", "scale": {"domain": ["Ig and αCD3", "PD-L1 and αCD3"], "range": [[1, 0], [8, 4]]}, "legend": null}
     }},
    {"transform": [{"filter": "datum.p === 'B3' && datum.s === 'PD-L1 and αCD3'"}],
     "mark": {"type": "line", "interpolate": "monotone", "strokeWidth": 2.2},
     "encoding": {
      "x": {"field": "x", "type": "quantitative", "scale": {"type": "log", "domain": [1, 10000]}, "axis": null},
      "y": {"field": "y", "type": "quantitative", "scale": {"domain": [0, 100], "nice": false}, "axis": null},
      "stroke": {"field": "s", "type": "nominal", "scale": {"domain": ["Ig and αCD3", "PD-L1 and αCD3"], "range": ["#1d9a4a", "#2a8fd0"]}, "legend": null},
      "strokeDash": {"field": "s", "type": "nominal", "scale": {"domain": ["Ig and αCD3", "PD-L1 and αCD3"], "range": [[1, 0], [8, 4]]}, "legend": null}
     }}
   ],
   "resolve": {"axis": {"x": "independent", "y": "independent"}}
  }
  ]
 }
 ]
}
]
}
